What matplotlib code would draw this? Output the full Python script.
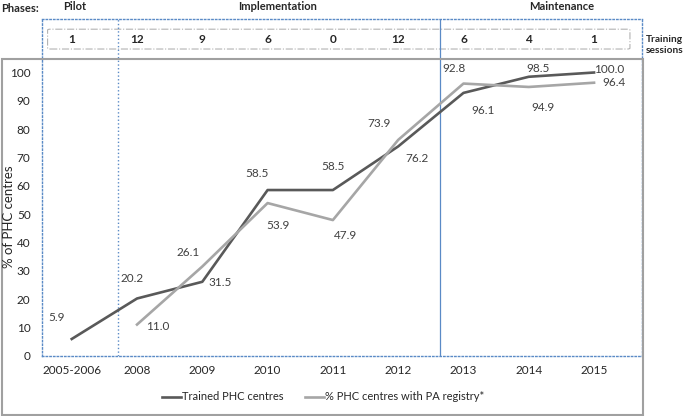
import numpy as np
import matplotlib
matplotlib.use('Agg')
import matplotlib.pyplot as plt
from matplotlib.patches import Rectangle, FancyBboxPatch
from matplotlib.lines import Line2D

plt.rcParams['font.family'] = ['Lato', 'DejaVu Sans']

years = ['2005-2006', '2008', '2009', '2010', '2011', '2012', '2013', '2014', '2015']
trained = [5.9, 20.2, 26.1, 58.5, 58.5, 73.9, 92.8, 98.5, 100.0]
registry = [np.nan, 11.0, 31.5, 53.9, 47.9, 76.2, 96.1, 94.9, 96.4]
sessions = [1, 12, 9, 6, 0, 12, 6, 4, 1]
phases = ['Pilot', 'Implementation', 'Maintenance']

# label offsets in pixels (dx, dy) relative to each point
off_trained = [(-15, 21), (-5, 20), (-14, 29), (-11, 17), (0, 24), (-19, 23), (-9, 24), (9, 8), (15, 3)]
off_registry = [None, (21, -2), (18, -16), (10, -22), (13, -15), (19, -19), (20, -27), (14, -21), (20, 0)]

dark = '#595959'
light = '#a6a6a6'
blue = '#5a8ac6'

fig = plt.figure(figsize=(6.85, 4.16), dpi=100)
ax = fig.add_axes([41.7/685, 1-355.7/416, 600/685, 336.7/416])
x = np.arange(len(years))

ax.plot(x, trained, color=dark, lw=1.9, label='Trained PHC centres', zorder=3)
ax.plot(x, registry, color=light, lw=1.9, label='% PHC centres with PA registry*', zorder=3)

for i, v in enumerate(trained):
    ax.annotate('%.1f' % v, (x[i], v), xytext=off_trained[i], textcoords='offset pixels',
                ha='center', va='center', fontsize=8.5, color='#404040')
for i, v in enumerate(registry):
    if off_registry[i] is None:
        continue
    ax.annotate('%.1f' % v, (x[i], v), xytext=off_registry[i], textcoords='offset pixels',
                ha='center', va='center', fontsize=8.5, color='#404040')

ax.set_xlim(-0.46, 8.73)
ax.set_ylim(0, 118.9)
ax.set_yticks(np.arange(0, 101, 10))
ax.set_xticks(x)
ax.set_xticklabels(years)
ax.tick_params(length=0, labelsize=8.5, colors='#262626')
ax.tick_params(axis='y', pad=8)
ax.tick_params(axis='x', pad=7)
for s in ax.spines.values():
    s.set_color(blue)
    s.set_linestyle(':')
    s.set_linewidth(1.0)

# phase dividers
ax.axvline(0.71, color=blue, ls=':', lw=1.0)
ax.axvline(5.64, color=blue, ls='-', lw=0.9)

# training sessions box
box = FancyBboxPatch((-0.37, 108.3), 8.92, 7.0, boxstyle='round,pad=0,rounding_size=0.04',
                     fill=False, ec='#b3b3b3', ls='-.', lw=0.8, mutation_aspect=8)
ax.add_patch(box)
for i, n in enumerate(sessions):
    ax.text(x[i], 111.8, str(n), ha='center', va='center', fontsize=8.5, fontweight='bold', color='#262626')

# phase labels
phase_x = [0.05, 3.16, 7.5]
for px, name in zip(phase_x, phases):
    ax.text(px, 123.2, name, ha='center', va='center', fontsize=8, fontweight='bold',
            color='#262626', clip_on=False)
fig.text(1/685, 1-8/416, 'Phases:', ha='left', va='center', fontsize=8, fontweight='bold', color='#262626')
fig.text(646/685, 1-45/416, 'Training\nsessions', ha='left', va='center', fontsize=7.3,
         fontweight='bold', color='#262626', linespacing=1.3)

fig.text(9/685, 1-217/416, '% of PHC centres', rotation=90, ha='center', va='center',
         fontsize=9.5, color='#262626')

# outer gray frame
fig.patches.append(Rectangle((1.5/685, 1-415/416), 641/685, 356/416, transform=fig.transFigure,
                             fill=False, ec='#a0a0a0', lw=1.5))

handles = [Line2D([], [], color=dark, lw=1.9), Line2D([], [], color=light, lw=1.9)]
fig.legend(handles, ['Trained PHC centres', '% PHC centres with PA registry*'], ncol=2,
           loc='center', bbox_to_anchor=(323/685, 1-397/416), frameon=False, fontsize=8,
           handlelength=1.7, handletextpad=0.05, columnspacing=2.0, labelcolor='#262626')

fig.savefig('out.png', dpi=100)
